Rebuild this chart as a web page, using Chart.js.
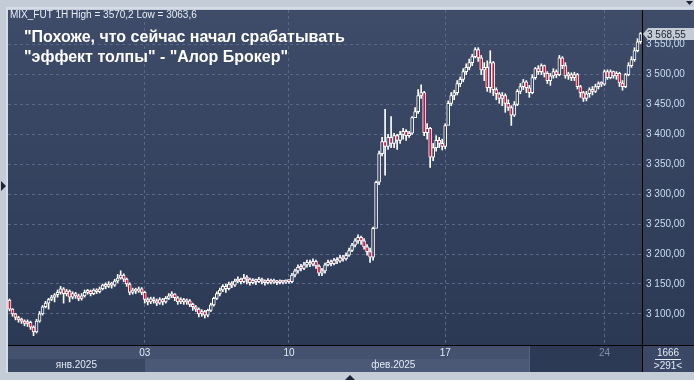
<!DOCTYPE html>
<html>
<head>
<meta charset="utf-8">
<script src="https://cdn.jsdelivr.net/npm/chart.js@4.4.1/dist/chart.umd.min.js"></script>
<style>
html, body { margin: 0; padding: 0; background: #c3ccd7; }
canvas { display: block; }
</style>
</head>
<body>
<canvas id="candleChart" width="694" height="380"></canvas>
<script>
// часовые свечи MIX_FUT, конец янв. - фев. 2025
const firstOpen = 3123;
const closes = [
  3108, 3100, 3094, 3090, 3088, 3084, 3086, 3078, 3070, 3088,
  3100, 3112, 3118, 3124, 3128, 3132, 3136, 3142, 3134, 3138,
  3128, 3134, 3130, 3126, 3130, 3136, 3138, 3134, 3140, 3137,
  3142, 3148, 3146, 3150, 3148, 3155, 3160, 3165, 3158, 3150,
  3136, 3140, 3138, 3142, 3136, 3124, 3120, 3125, 3122, 3118,
  3124, 3120, 3126, 3130, 3133, 3127, 3120, 3124, 3120, 3122,
  3116, 3112, 3108, 3100, 3104, 3098, 3106, 3115, 3126, 3134,
  3140, 3146, 3142, 3150, 3148, 3155, 3158, 3154, 3160, 3158,
  3152, 3156, 3154, 3158, 3155, 3152, 3156, 3153, 3155, 3152,
  3154, 3153, 3155, 3154, 3165, 3172, 3178, 3176, 3182, 3186,
  3183, 3188, 3180, 3168, 3172, 3182, 3186, 3184, 3190, 3188,
  3194, 3192, 3198, 3206, 3215, 3222, 3228, 3222, 3212, 3204,
  3195, 3243, 3320, 3368, 3388, 3380, 3395, 3385, 3398, 3390,
  3400, 3405, 3398, 3402, 3428, 3438, 3465, 3470, 3403, 3410,
  3362, 3378, 3390, 3385, 3380, 3415, 3452, 3465, 3470, 3485,
  3492, 3505, 3512, 3520, 3530, 3542, 3528, 3508, 3512, 3478,
  3520, 3475, 3468, 3460, 3465, 3452, 3445, 3432, 3450, 3472,
  3480, 3488, 3478, 3470, 3495, 3510, 3505, 3515, 3502, 3490,
  3498, 3505, 3500, 3528, 3515, 3498, 3500, 3495, 3500, 3480,
  3470, 3460, 3468, 3475, 3472, 3480, 3485, 3484, 3505, 3495,
  3505, 3498, 3502, 3486, 3480, 3500, 3515, 3525, 3540, 3555,
  3568.55
];
const highs = [
  3125, 3109, 3101, 3096, 3093, 3090, 3090, 3088, 3080, 3091,
  3104, 3114, 3121, 3126, 3131, 3134, 3140, 3146, 3144, 3141,
  3140, 3137, 3136, 3133, 3134, 3140, 3141, 3140, 3142, 3142,
  3145, 3150, 3152, 3154, 3153, 3158, 3166, 3172, 3167, 3160,
  3152, 3143, 3143, 3145, 3144, 3138, 3127, 3128, 3128, 3125,
  3127, 3126, 3129, 3134, 3137, 3134, 3129, 3127, 3126, 3125,
  3124, 3118, 3114, 3110, 3107, 3106, 3108, 3118, 3128, 3137,
  3143, 3149, 3150, 3153, 3154, 3158, 3162, 3160, 3166, 3164,
  3160, 3159, 3158, 3161, 3160, 3157, 3159, 3158, 3158, 3156,
  3157, 3156, 3157, 3157, 3168, 3175, 3182, 3183, 3186, 3190,
  3190, 3192, 3190, 3182, 3176, 3185, 3190, 3190, 3193, 3194,
  3198, 3198, 3202, 3210, 3218, 3226, 3232, 3230, 3226, 3216,
  3210, 3245, 3322, 3372, 3395, 3442, 3400, 3430, 3402, 3400,
  3405, 3410, 3408, 3405, 3430, 3445, 3475, 3483, 3472, 3418,
  3412, 3385, 3398, 3395, 3392, 3418, 3456, 3470, 3474, 3490,
  3496, 3510, 3518, 3526, 3534, 3545, 3545, 3532, 3520, 3523,
  3540, 3522, 3478, 3470, 3470, 3468, 3458, 3448, 3455, 3475,
  3485, 3492, 3490, 3482, 3500, 3512, 3515, 3518, 3516, 3505,
  3502, 3510, 3508, 3532, 3530, 3520, 3504, 3503, 3504, 3502,
  3482, 3472, 3472, 3478, 3480, 3484, 3488, 3488, 3508, 3508,
  3508, 3506, 3505, 3504, 3490, 3502, 3520, 3530, 3545, 3560,
  3570.2
];
const lows = [
  3105, 3096, 3090, 3086, 3084, 3080, 3079, 3074, 3063.6, 3068,
  3086, 3098, 3110, 3108, 3122, 3120, 3128, 3133, 3118, 3130,
  3120, 3125, 3126, 3122, 3123, 3128, 3133, 3130, 3132, 3134,
  3135, 3140, 3142, 3144, 3143, 3146, 3152, 3158, 3154, 3146,
  3132, 3133, 3134, 3136, 3132, 3118, 3115, 3117, 3118, 3114,
  3116, 3115, 3118, 3124, 3127, 3122, 3116, 3117, 3116, 3116,
  3112, 3106, 3104, 3095, 3096, 3093, 3095, 3104, 3113, 3124,
  3130, 3137, 3136, 3140, 3144, 3146, 3152, 3150, 3152, 3150,
  3148, 3150, 3149, 3152, 3150, 3148, 3150, 3150, 3151, 3149,
  3150, 3150, 3151, 3151, 3152, 3162, 3168, 3172, 3174, 3178,
  3179, 3180, 3176, 3164, 3164, 3168, 3180, 3180, 3182, 3184,
  3186, 3188, 3190, 3196, 3204, 3212, 3218, 3216, 3208, 3198,
  3186, 3190, 3260, 3316, 3364, 3332, 3375, 3378, 3378, 3375,
  3385, 3392, 3390, 3395, 3400, 3428, 3435, 3460, 3398, 3392,
  3345, 3356, 3372, 3378, 3374, 3376, 3420, 3448, 3458, 3466,
  3480, 3488, 3500, 3508, 3515, 3528, 3522, 3500, 3490, 3472,
  3470, 3465, 3458, 3452, 3448, 3437, 3440, 3415, 3430, 3448,
  3468, 3475, 3470, 3462, 3468, 3492, 3500, 3500, 3496, 3485,
  3482, 3494, 3495, 3498, 3510, 3494, 3492, 3490, 3490, 3476,
  3462, 3455, 3456, 3462, 3466, 3470, 3476, 3480, 3482, 3492,
  3493, 3494, 3492, 3480, 3474, 3478, 3498, 3512, 3522, 3538,
  3552
];
// подписи недель (индекс свечи -> день) и месяцев
const weekTicks = [45, 93, 145, 198];
const weekLabels = ['03', '10', '17', '24'];
const monthLabels = ['янв.2025', 'фев.2025'];
const yLabelValues = [3100, 3150, 3200, 3250, 3300, 3350, 3400, 3450, 3500, 3550];

const opens = closes.map((c, i) => i === 0 ? firstOpen : closes[i - 1]);
const labels = closes.map((c, i) => String(i));

const gridColor = '#5a6885';
const redColor = '#e8062e';
const hollowColor = '#34415e';

function fmtPrice(v) {
  return v.toFixed(2).replace('.', ',').replace(/^(\d)(\d{3})/, '$1 $2');
}

const bgPlugin = {
  id: 'terminalBg',
  beforeDraw(chart) {
    const c = chart.ctx;
    const area = chart.chartArea;
    c.save();
    c.fillStyle = '#c3ccd7';
    c.fillRect(0, 0, 694, 380);
    c.fillStyle = '#d6dde6';
    c.fillRect(6, 7, 688, 2);
    c.fillRect(6, 7, 2, 366);
    const g = c.createLinearGradient(0, area.top, 0, area.bottom);
    g.addColorStop(0, '#3f4c69');
    g.addColorStop(1, '#2c3955');
    c.fillStyle = g;
    c.fillRect(8, area.top, 694 - 8, area.bottom - area.top);
    // нижняя шкала
    const yb = area.bottom;
    c.fillStyle = '#44526f';
    c.fillRect(8, yb, 686, 14);
    c.fillStyle = '#3a4763';
    c.fillRect(8, yb + 14, 686, 13);
    c.fillStyle = '#4b5977';
    c.fillRect(145, yb + 14, 385, 13);
    c.fillStyle = '#2c3a55';
    c.fillRect(530, yb, area.right - 530, 27);
    c.fillStyle = '#56637f';
    c.fillRect(529, yb, 1, 27);
    c.fillStyle = '#3b4865';
    c.fillRect(area.right, yb, 694 - area.right, 27);
    // треугольники на рамке
    c.fillStyle = '#1c2536';
    c.beginPath(); c.moveTo(1, 181); c.lineTo(6, 186); c.lineTo(1, 191); c.fill();
    c.beginPath(); c.moveTo(686, 1); c.lineTo(693, 1); c.lineTo(689.5, 5); c.fill();
    c.beginPath(); c.moveTo(345, 380); c.lineTo(350, 375); c.lineTo(355, 380); c.fill();
    c.restore();
  },
  afterDraw(chart) {
    const c = chart.ctx;
    const area = chart.chartArea;
    const xs = chart.scales.x;
    const ys = chart.scales.y;
    c.save();
    c.fillStyle = '#000000';
    c.fillRect(8, area.bottom, 686, 1);
    c.fillRect(area.right, area.top, 1, area.bottom - area.top + 27);
    // заголовки
    c.fillStyle = '#e8eef7';
    c.font = '10px Arial';
    c.textBaseline = 'alphabetic';
    c.textAlign = 'left';
    c.fillText('MIX_FUT 1H High = 3570,2 Low = 3063,6', 10, 18);
    c.fillStyle = '#ffffff';
    c.font = 'bold 16px Arial';
    c.fillText('"Похоже, что сейчас начал срабатывать', 24, 42);
    c.fillText('"эффект толпы" - "Алор Брокер"', 24, 62);
    // подписи дат
    c.font = '10px Arial';
    c.textAlign = 'center';
    c.textBaseline = 'middle';
    weekTicks.forEach((idx, k) => {
      c.fillStyle = k === weekTicks.length - 1 ? '#8591a8' : '#e2eaf6';
      c.fillText(weekLabels[k], xs.getPixelForValue(idx), area.bottom + 8);
    });
    c.fillStyle = '#e2eaf6';
    const febStart = xs.getPixelForValue(weekTicks[0]);
    c.fillText(monthLabels[0], (8 + febStart) / 2, area.bottom + 20);
    c.fillText(monthLabels[1], (febStart + area.right) / 2, area.bottom + 20);
    c.fillText('1666', 668, area.bottom + 8);
    c.fillText('>291<', 668, area.bottom + 21);
    c.fillRect(655, area.bottom + 14, 26, 1);
    // метка последней цены
    const last = closes[closes.length - 1];
    const py = Math.round(ys.getPixelForValue(last));
    c.fillStyle = '#c4ccd6';
    c.beginPath();
    c.moveTo(area.right + 1, py);
    c.lineTo(area.right + 6, py - 6);
    c.lineTo(694, py - 6);
    c.lineTo(694, py + 6);
    c.lineTo(area.right + 6, py + 6);
    c.closePath();
    c.fill();
    c.fillStyle = '#1a2233';
    c.textAlign = 'left';
    c.fillText(fmtPrice(last), 647, py + 1);
    c.restore();
  }
};

const ctx = document.getElementById('candleChart').getContext('2d');
const candleChart = new Chart(ctx, {
  type: 'bar',
  data: {
    labels: labels,
    datasets: [
      {
        label: 'wick',
        data: lows.map((l, i) => [l, highs[i]]),
        backgroundColor: '#ffffff',
        barThickness: 1,
        grouped: false,
        order: 2
      },
      {
        label: 'body',
        data: opens.map((o, i) => [o, closes[i]]),
        backgroundColor: closes.map((c, i) => c >= opens[i] ? hollowColor : redColor),
        borderColor: '#ffffff',
        borderWidth: 1,
        borderSkipped: false,
        barThickness: 3,
        minBarLength: 2,
        grouped: false,
        order: 1
      }
    ]
  },
  options: {
    responsive: false,
    animation: false,
    devicePixelRatio: 1,
    layout: { padding: { left: 8, top: 9, right: 0, bottom: 8 } },
    plugins: {
      legend: { display: false },
      tooltip: { enabled: false }
    },
    scales: {
      x: {
        offset: true,
        ticks: { display: false, autoSkip: false },
        grid: {
          offset: false,
          drawTicks: false,
          color: (c) => weekTicks.includes(c.index) ? gridColor : 'transparent'
        },
        border: { display: false, dash: [3, 3] },
        afterFit: (s) => { s.height = 27; }
      },
      y: {
        position: 'right',
        min: 3048,
        max: 3608,
        ticks: {
          stepSize: 50,
          padding: 4,
          color: '#c9dbf1',
          font: { family: 'Arial', size: 10 },
          callback: (v) => yLabelValues.includes(v) ? fmtPrice(v) : ''
        },
        grid: {
          drawTicks: false,
          color: (c) => c.tick && yLabelValues.includes(c.tick.value) ? gridColor : 'transparent'
        },
        border: { display: false, dash: [3, 3] },
        afterFit: (s) => { s.width = 52; }
      }
    }
  },
  plugins: [bgPlugin]
});
</script>
</body>
</html>
